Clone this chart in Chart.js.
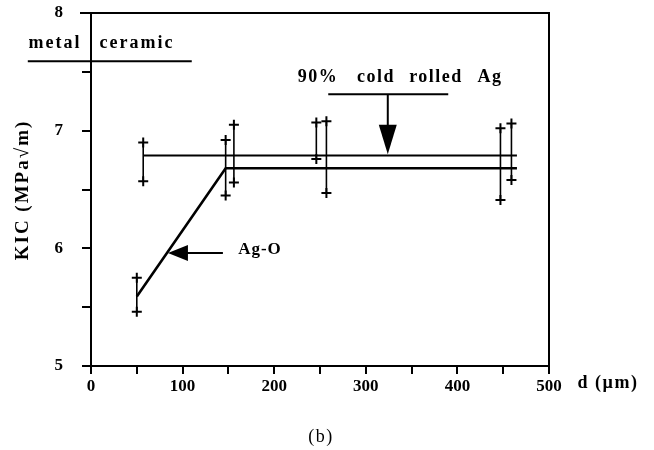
<!DOCTYPE html>
<html>
<head>
<meta charset="utf-8">
<script src="https://cdn.jsdelivr.net/npm/chart.js@4.4.1/dist/chart.umd.min.js"></script>
<style>
    html, body { margin: 0; padding: 0; background: #fff; }
</style>
</head>
<body>
<canvas id="myChart" width="654" height="450"></canvas>
<script>
// d (um) vs KIC (MPa sqrt m)
const coldRolledD = [57, 156, 257, 459];
const coldRolledLow = [6.57, 6.56, 6.47, 6.58];
const coldRolledHigh = [6.90, 7.05, 7.08, 7.06];
const coldRolledLineD = [57, 465];
const coldRolledLineK = [6.79, 6.79];

const agOD = [50, 147, 246, 447];
const agOLow = [5.46, 6.45, 6.76, 6.41];
const agOHigh = [5.75, 6.92, 7.07, 7.02];
const agOLineD = [50, 147, 465];
const agOLineK = [5.59, 6.68, 6.68];

const xTicks = [0, 100, 200, 300, 400, 500];
const yTicks = [5, 6, 7, 8];

const SERIF = '"Liberation Serif", "Times New Roman", serif';

let errorBar = (d, lo, hi) => ({
    data: [{x: d, y: lo}, {x: d, y: hi}],
    showLine: true,
    borderColor: '#000',
    backgroundColor: '#000',
    borderWidth: 1.6,
    pointStyle: 'cross',
    pointRadius: 5,
    pointBorderWidth: 2,
    pointHoverRadius: 5
});

let lineSet = (xs, ys, w) => ({
    data: xs.map((x, i) => ({x: x, y: ys[i]})),
    showLine: true,
    borderColor: '#000',
    borderWidth: w,
    pointRadius: 0,
    tension: 0
});

let datasets = [
    lineSet(coldRolledLineD, coldRolledLineK, 2),
    lineSet(agOLineD, agOLineK, 2.6)
];
coldRolledD.forEach((d, i) => datasets.push(errorBar(d, coldRolledLow[i], coldRolledHigh[i])));
agOD.forEach((d, i) => datasets.push(errorBar(d, agOLow[i], agOHigh[i])));

// text helper with letter spacing
let txt = (ctx, s, x, y, size, bold, spacing, align) => {
    ctx.save();
    ctx.font = (bold ? 'bold ' : '') + size + 'px ' + SERIF;
    ctx.letterSpacing = spacing + 'px';
    ctx.fillStyle = '#000';
    ctx.textAlign = align || 'center';
    ctx.textBaseline = 'middle';
    ctx.fillText(s, x, y);
    ctx.restore();
};

let seg = (ctx, x1, y1, x2, y2, w) => {
    ctx.beginPath();
    ctx.lineWidth = w;
    ctx.moveTo(x1, y1);
    ctx.lineTo(x2, y2);
    ctx.stroke();
};

const annotations = {
    id: 'annotations',
    afterDraw(chart) {
        const ctx = chart.ctx;
        const xs = chart.scales.x, ys = chart.scales.y;
        const area = chart.chartArea;
        const px = v => xs.getPixelForValue(v);
        const py = v => ys.getPixelForValue(v);
        ctx.save();
        ctx.strokeStyle = '#000';
        ctx.fillStyle = '#000';
        ctx.lineCap = 'butt';

        // frame top and right
        seg(ctx, area.left - 11, area.top, area.right + 1, area.top, 2);
        seg(ctx, area.right, area.top, area.right, area.bottom, 2);

        // metal / ceramic divider
        seg(ctx, px(-69), py(7.59), px(110), py(7.59), 2);
        txt(ctx, 'metal', 55, py(7.59) - 18, 18, true, 2);
        txt(ctx, 'ceramic', 137, py(7.59) - 18, 18, true, 2);

        // 90% cold rolled Ag arrow
        const ax = px(324), ay = py(7.31);
        seg(ctx, px(259), ay, px(390), ay, 2);
        seg(ctx, ax, ay, ax, py(7.0), 2);
        ctx.beginPath();
        ctx.moveTo(ax - 9, py(7.05));
        ctx.lineTo(ax + 9, py(7.05));
        ctx.lineTo(ax, py(6.80));
        ctx.closePath();
        ctx.fill();
        txt(ctx, '90%', 318, 77, 18, true, 1.5);
        txt(ctx, 'cold', 376, 77, 18, true, 1.5);
        txt(ctx, 'rolled', 436, 77, 18, true, 1.5);
        txt(ctx, 'Ag', 490, 77, 18, true, 1.5);

        // Ag-O arrow
        const tx = px(84), ty = py(5.96);
        seg(ctx, tx + 15, ty, px(144), ty, 2);
        ctx.beginPath();
        ctx.moveTo(tx, ty);
        ctx.lineTo(tx + 20, ty - 8);
        ctx.lineTo(tx + 20, ty + 8);
        ctx.closePath();
        ctx.fill();
        txt(ctx, 'Ag-O', 260, ty - 3, 17, true, 1);

        // axis titles and caption
        txt(ctx, 'd (\u00b5m)', 608, 383, 18, true, 1.5);
        txt(ctx, '(b)', 321, 437, 18, false, 1.5);
        ctx.save();
        ctx.translate(23, 190);
        ctx.rotate(-Math.PI / 2);
        txt(ctx, 'KIC (MPa\u221am)', 0, 0, 19, true, 2);
        ctx.restore();

        ctx.restore();
    }
};

document.addEventListener('DOMContentLoaded', () => {
    new Chart('myChart', {
        type: 'scatter',
        data: { datasets: datasets },
        options: {
            responsive: false,
            animation: false,
            devicePixelRatio: 1,
            layout: { padding: { top: 13, right: 105, bottom: 0, left: 0 } },
            plugins: {
                legend: { display: false },
                tooltip: { enabled: false },
                title: { display: false }
            },
            scales: {
                x: {
                    type: 'linear',
                    min: 0,
                    max: 500,
                    afterFit: s => { s.height = 84; s.paddingLeft = 0; s.paddingRight = 0; },
                    border: { display: true, color: '#000', width: 2 },
                    grid: { display: true, drawOnChartArea: false, drawTicks: true, tickLength: 8, color: '#000', lineWidth: 2 },
                    ticks: {
                        stepSize: 50,
                        padding: 2,
                        color: '#000',
                        font: { family: SERIF, size: 17, weight: 'bold' },
                        maxRotation: 0,
                        callback: v => xTicks.includes(v) ? String(v) : ''
                    }
                },
                y: {
                    type: 'linear',
                    min: 5,
                    max: 8,
                    afterFit: s => { s.width = 91; s.paddingTop = 0; s.paddingBottom = 0; },
                    border: { display: true, color: '#000', width: 2 },
                    grid: { display: true, drawOnChartArea: false, drawTicks: true, tickLength: 9, color: '#000', lineWidth: 2 },
                    ticks: {
                        stepSize: 0.5,
                        padding: 19,
                        color: '#000',
                        font: { family: SERIF, size: 17, weight: 'bold' },
                        callback: v => yTicks.includes(v) ? String(v) : ''
                    }
                }
            }
        },
        plugins: [annotations]
    });
});
</script>
</body>
</html>
